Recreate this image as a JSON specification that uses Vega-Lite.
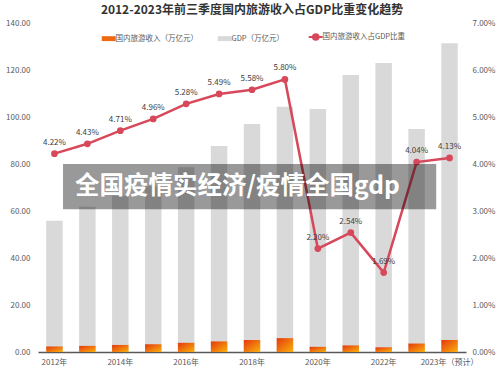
{
  "$schema": "https://vega.github.io/schema/vega-lite/v6.json",
  "width": 428,
  "height": 329,
  "autosize": {"type": "none"},
  "padding": {"left": 38, "top": 23, "right": 34, "bottom": 23},
  "background": "white",
  "config": {"font": "Noto Sans CJK SC", "view": {"stroke": null}},
  "title": {
    "text": "2012-2023年前三季度国内旅游收入占GDP比重变化趋势",
    "fontSize": 12,
    "fontWeight": "bold",
    "color": "#333333",
    "anchor": "middle",
    "offset": 2
  },
  "datasets": {
    "main": [
      {"year": "2012年", "gdp": 55.9, "rev": 2.3, "pct": 0.0422},
      {"year": "2013年", "gdp": 61.8, "rev": 2.6, "pct": 0.0443},
      {"year": "2014年", "gdp": 66.5, "rev": 3.0, "pct": 0.0471},
      {"year": "2015年", "gdp": 70.5, "rev": 3.3, "pct": 0.0496},
      {"year": "2016年", "gdp": 78.6, "rev": 3.9, "pct": 0.0528},
      {"year": "2017年", "gdp": 87.7, "rev": 4.5, "pct": 0.0549},
      {"year": "2018年", "gdp": 97.0, "rev": 5.1, "pct": 0.0558},
      {"year": "2019年", "gdp": 104.4, "rev": 5.9, "pct": 0.058},
      {"year": "2020年", "gdp": 103.4, "rev": 2.2, "pct": 0.022},
      {"year": "2021年", "gdp": 117.9, "rev": 2.8, "pct": 0.0254},
      {"year": "2022年", "gdp": 123.0, "rev": 2.0, "pct": 0.0169},
      {"year": "2023年", "gdp": 94.9, "rev": 3.6, "pct": 0.0404},
      {"year": "2023年（预计）", "gdp": 131.4, "rev": 5.1, "pct": 0.0413}
    ],
    "wm": [
      {"x1": "2012年", "x2": "2023年", "y1": 80, "y2": 60.7, "ty": 70.2, "label": "全国疫情实经济/疫情全国gdp"}
    ]
  },
  "layer": [
    {
      "data": {"name": "main"},
      "layer": [
        {
          "mark": {"type": "bar", "color": "#d9d9d9"},
          "encoding": {
            "x": {
              "field": "year",
              "type": "nominal",
              "sort": null,
              "scale": {
                "domain": ["2012年", "2013年", "2014年", "2015年", "2016年", "2017年", "2018年", "2019年", "2020年", "2021年", "2022年", "2023年", "2023年（预计）"],
                "paddingInner": 0.5,
                "paddingOuter": 0.25
              },
              "axis": {
                "title": null,
                "values": ["2012年", "2014年", "2016年", "2018年", "2020年", "2022年", "2023年（预计）"],
                "labelAngle": 0,
                "labelFontSize": 8,
                "labelColor": "#595959",
                "labelPadding": 6,
                "ticks": false,
                "domainColor": "#595959",
                "domainWidth": 1.5,
                "grid": false
              }
            },
            "y": {
              "field": "gdp",
              "type": "quantitative",
              "scale": {"domain": [0, 140], "nice": false},
              "axis": {
                "orient": "left",
                "title": null,
                "values": [0, 20, 40, 60, 80, 100, 120, 140],
                "format": ".2f",
                "labelFontSize": 8,
                "labelColor": "#595959",
                "labelPadding": 8,
                "ticks": false,
                "domain": false,
                "grid": false
              }
            },
            "color": {
              "datum": "GDP（万亿元）",
              "type": "nominal",
              "scale": {
                "domain": ["国内旅游收入（万亿元）", "GDP（万亿元）", "国内旅游收入占GDP比重"],
                "range": ["#ee6a10", "#d9d9d9", "#d6485a"]
              },
              "legend": {
                "title": null,
                "orient": "none",
                "direction": "horizontal",
                "legendX": 67,
                "legendY": 10,
                "padding": 0,
                "labelFontSize": 7.5,
                "labelColor": "#595959",
                "labelOffset": 3,
                "columnPadding": 19,
                "symbolSize": 196,
                "symbolStrokeWidth": 0,
                "symbolOpacity": 1,
                "encode": {
                  "symbols": {
                    "update": {
                      "shape": {"signal": "datum.value == '国内旅游收入占GDP比重' ? 'M-1,0H1M-0.4,0A0.4,0.4,0,1,1,0.4,0A0.4,0.4,0,1,1,-0.4,0Z' : 'M-1,-0.35H1V0.35H-1Z'"},
                      "fill": {"signal": "datum.value == '国内旅游收入（万亿元）' ? {gradient: 'linear', x1: 0, y1: 0, x2: 1, y2: 1, stops: [{offset: 0, color: '#e5380e'}, {offset: 1, color: '#f9b10c'}]} : scale('color', datum.value)"},
                      "stroke": {"signal": "scale('color', datum.value)"},
                      "strokeWidth": {"signal": "datum.value == '国内旅游收入占GDP比重' ? 2 : 0"},
                      "opacity": {"value": 1}
                    }
                  }
                }
              }
            }
          }
        },
        {
          "mark": {
            "type": "bar",
            "fill": {
              "gradient": "linear",
              "x1": 0, "y1": 0, "x2": 1, "y2": 1,
              "stops": [
                {"offset": 0, "color": "#e5380e"},
                {"offset": 1, "color": "#f9b10c"}
              ]
            }
          },
          "encoding": {
            "x": {"field": "year", "type": "nominal", "sort": null},
            "y": {"field": "rev", "type": "quantitative"}
          }
        }
      ]
    },
    {
      "data": {"name": "main"},
      "layer": [
        {
          "mark": {
            "type": "line",
            "color": "#d6485a",
            "strokeWidth": 2.5,
            "point": {"filled": true, "size": 45, "color": "#d6485a"}
          },
          "encoding": {
            "x": {"field": "year", "type": "nominal", "sort": null},
            "y": {
              "field": "pct",
              "type": "quantitative",
              "scale": {"domain": [0, 0.07], "nice": false},
              "axis": {
                "orient": "right",
                "title": null,
                "values": [0, 0.01, 0.02, 0.03, 0.04, 0.05, 0.06, 0.07],
                "format": ".2%",
                "labelFontSize": 8,
                "labelColor": "#595959",
                "labelPadding": 6,
                "ticks": false,
                "domain": false,
                "grid": false
              }
            }
          }
        },
        {
          "mark": {"type": "text", "fontSize": 8, "color": "#404040", "dy": -11},
          "encoding": {
            "x": {"field": "year", "type": "nominal", "sort": null},
            "y": {"field": "pct", "type": "quantitative"},
            "text": {"field": "pct", "type": "quantitative", "format": ".2%"}
          }
        }
      ]
    },
    {
      "data": {"name": "wm"},
      "mark": {"type": "rect", "color": "black", "opacity": 0.4},
      "encoding": {
        "x": {"field": "x1", "type": "nominal", "bandPosition": 1.02},
        "x2": {"field": "x2", "bandPosition": 1.69},
        "y": {"field": "y1", "type": "quantitative", "scale": {"domain": [0, 140], "nice": false}, "axis": null},
        "y2": {"field": "y2"}
      }
    },
    {
      "data": {"name": "wm"},
      "mark": {"type": "text", "color": "white", "fontSize": 24.5, "fontWeight": "bold", "align": "left", "baseline": "middle", "letterSpacing": 0.5},
      "encoding": {
        "x": {"field": "x1", "type": "nominal", "bandPosition": 1.75},
        "y": {"field": "ty", "type": "quantitative", "scale": {"domain": [0, 140], "nice": false}, "axis": null},
        "text": {"field": "label"}
      }
    }
  ],
  "resolve": {"scale": {"y": "independent"}, "axis": {"y": "independent"}}
}
